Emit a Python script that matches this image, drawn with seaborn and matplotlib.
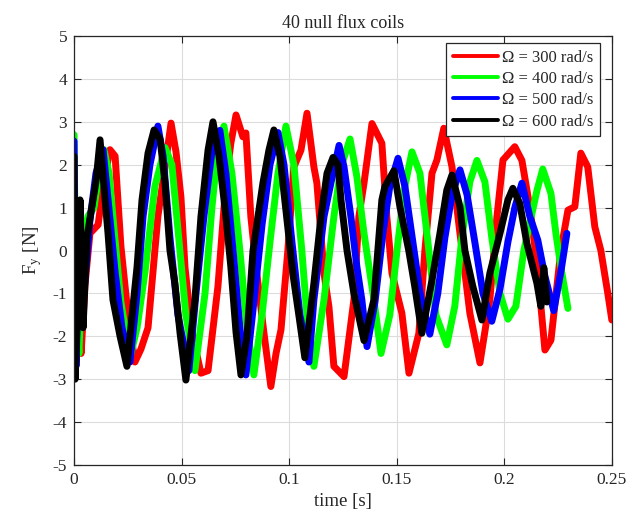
import pandas as pd
import numpy as np
import matplotlib
matplotlib.use("Agg")
import matplotlib.pyplot as plt
import seaborn as sns

# Values (time in s, force in N)
t_300 = [0.0000, 0.0019, 0.0033, 0.0051, 0.0074, 0.0112, 0.0139, 0.0167, 0.0191, 0.0218,
         0.0251, 0.0283, 0.0311, 0.0344, 0.0390, 0.0423, 0.0451, 0.0474, 0.0497, 0.0516,
         0.0548, 0.0590, 0.0623, 0.0669, 0.0706, 0.0729, 0.0753, 0.0785, 0.0799, 0.0822,
         0.0846, 0.0883, 0.0915, 0.0939, 0.0962, 0.0994, 0.1022, 0.1055, 0.1083, 0.1115,
         0.1129, 0.1162, 0.1185, 0.1208, 0.1255, 0.1301, 0.1324, 0.1348, 0.1385, 0.1431,
         0.1454, 0.1478, 0.1524, 0.1557, 0.1603, 0.1631, 0.1664, 0.1687, 0.1719, 0.1757,
         0.1794, 0.1808, 0.1840, 0.1887, 0.1933, 0.1966, 0.1994, 0.2049, 0.2082, 0.2119,
         0.2152, 0.2189, 0.2217, 0.2263, 0.2296, 0.2328, 0.2356, 0.2388, 0.2421, 0.2449,
         0.2481, 0.2500]
f_300 = [1.30, -1.50, -2.40, -0.80, 0.40, 0.60, 1.60, 2.35, 2.20, 0.10,
         -1.50, -2.60, -2.30, -1.80, 0.80, 1.95, 2.97, 2.30, 1.25, -0.40,
         -1.90, -2.86, -2.80, -0.84, 1.57, 2.50, 3.16, 2.65, 2.74, 0.79,
         -0.38, -1.93, -3.17, -2.40, -1.85, 0.00, 1.95, 2.34, 3.20, 1.95,
         1.57, -0.53, -1.31, -2.70, -2.94, -1.15, 0.79, 1.57, 2.96, 2.50,
         0.79, -0.53, -1.46, -2.86, -1.93, 0.00, 1.80, 2.11, 2.85, 1.95,
         0.40, -0.14, -1.46, -2.62, -1.15, 0.79, 2.11, 2.42, 2.10, 1.00,
         -0.30, -2.32, -2.09, 0.00, 0.94, 1.02, 2.27, 1.95, 0.55, 0.00,
         -0.99, -1.62]

t_400 = [0.0000, 0.0009, 0.0023, 0.0042, 0.0065, 0.0093, 0.0116, 0.0139, 0.0163, 0.0186,
         0.0218, 0.0260, 0.0293, 0.0330, 0.0376, 0.0423, 0.0455, 0.0483, 0.0520, 0.0562,
         0.0609, 0.0641, 0.0669, 0.0697, 0.0734, 0.0771, 0.0804, 0.0836, 0.0874, 0.0911,
         0.0948, 0.0985, 0.1022, 0.1059, 0.1087, 0.1115, 0.1162, 0.1208, 0.1241, 0.1283,
         0.1315, 0.1348, 0.1394, 0.1427, 0.1468, 0.1506, 0.1538, 0.1571, 0.1608, 0.1645,
         0.1682, 0.1733, 0.1770, 0.1803, 0.1840, 0.1873, 0.1910, 0.1942, 0.1980, 0.2017,
         0.2054, 0.2091, 0.2152, 0.2179, 0.2217, 0.2240, 0.2263, 0.2296]
f_400 = [2.70, -1.50, -2.40, 0.30, 0.80, 1.00, 1.80, 2.35, 1.80, 0.50,
         -1.20, -2.50, -1.80, -0.50, 1.50, 2.40, 2.00, 0.50, -1.50, -2.80,
         -1.00, 1.00, 2.40, 2.90, 1.80, 0.00, -1.80, -2.90, -1.50, 0.20,
         1.80, 2.90, 2.00, 0.00, -1.80, -2.70, -1.15, 0.79, 1.95, 2.60,
         1.72, 0.40, -1.15, -2.40, -1.50, 0.20, 1.50, 2.30, 1.80, 0.20,
         -1.50, -2.20, -1.30, 0.30, 1.60, 2.10, 1.60, 0.30, -1.00, -1.60,
         -1.30, 0.00, 1.40, 1.90, 1.33, 0.40, -0.38, -1.35]

t_500 = [0.0000, 0.0009, 0.0028, 0.0046, 0.0074, 0.0102, 0.0135, 0.0158, 0.0191, 0.0223,
         0.0260, 0.0293, 0.0321, 0.0353, 0.0390, 0.0414, 0.0446, 0.0483, 0.0534, 0.0567,
         0.0604, 0.0641, 0.0678, 0.0706, 0.0743, 0.0771, 0.0799, 0.0836, 0.0874, 0.0911,
         0.0948, 0.0976, 0.1013, 0.1050, 0.1092, 0.1115, 0.1162, 0.1194, 0.1232, 0.1255,
         0.1287, 0.1315, 0.1338, 0.1362, 0.1399, 0.1436, 0.1468, 0.1506, 0.1538, 0.1575,
         0.1612, 0.1654, 0.1691, 0.1724, 0.1757, 0.1794, 0.1827, 0.1863, 0.1901, 0.1942,
         0.1980, 0.2017, 0.2049, 0.2082, 0.2119, 0.2156, 0.2189, 0.2230, 0.2263, 0.2291]
f_500 = [2.55, -2.70, 0.50, -1.00, 0.70, 1.80, 2.35, 1.20, -0.50, -1.80,
         -2.60, -1.00, 0.80, 2.00, 2.90, 2.20, 0.30, -1.50, -2.80, -1.00,
         0.80, 2.30, 2.80, 1.80, -0.20, -1.80, -2.90, -1.20, 0.60, 2.00,
         2.75, 2.00, 0.20, -1.50, -2.60, -1.15, 0.79, 1.57, 2.45, 1.95,
         0.79, -0.38, -1.15, -2.24, -1.20, 0.40, 1.50, 2.15, 1.50, 0.20,
         -1.10, -1.95, -1.00, 0.30, 1.30, 1.88, 1.30, 0.20, -1.00, -1.65,
         -0.90, 0.20, 1.00, 1.57, 0.79, 0.24, -0.60, -1.40, -0.50, 0.40]

t_600 = [0.0000, 0.0005, 0.0019, 0.0028, 0.0042, 0.0060, 0.0079, 0.0102, 0.0121, 0.0139,
         0.0158, 0.0181, 0.0214, 0.0246, 0.0270, 0.0293, 0.0316, 0.0344, 0.0372, 0.0400,
         0.0423, 0.0446, 0.0469, 0.0493, 0.0520, 0.0562, 0.0590, 0.0623, 0.0646, 0.0674,
         0.0706, 0.0729, 0.0753, 0.0776, 0.0804, 0.0832, 0.0878, 0.0906, 0.0929, 0.0957,
         0.0985, 0.1017, 0.1046, 0.1073, 0.1115, 0.1148, 0.1176, 0.1204, 0.1227, 0.1241,
         0.1269, 0.1301, 0.1348, 0.1394, 0.1431, 0.1445, 0.1487, 0.1515, 0.1556, 0.1584,
         0.1617, 0.1664, 0.1701, 0.1733, 0.1757, 0.1794, 0.1817, 0.1854, 0.1896, 0.1933,
         0.1980, 0.2017, 0.2040, 0.2072, 0.2105, 0.2152, 0.2170, 0.2184, 0.2198]
f_600 = [2.20, -3.00, -1.00, 1.18, -1.80, 0.30, 0.90, 1.60, 2.58, 1.50,
         0.40, -1.15, -2.00, -2.70, -1.50, -0.38, 1.18, 2.27, 2.81, 2.60,
         1.57, 0.00, -0.77, -1.93, -3.02, -1.15, 0.79, 2.34, 3.00, 2.20,
         0.79, -0.38, -1.90, -2.90, -2.00, 0.00, 1.57, 2.34, 2.81, 2.20,
         0.94, -0.53, -1.54, -2.50, -0.77, 0.79, 1.80, 2.17, 2.00, 1.18,
         0.00, -1.00, -2.10, -1.15, 1.18, 1.49, 1.86, 1.02, 0.00, -0.84,
         -1.93, -0.69, 0.40, 1.41, 1.76, 1.02, 0.00, -0.84, -1.62, -0.53,
         0.40, 1.18, 1.45, 1.10, 0.17, -0.77, -1.30, -0.40, -1.20]

labels = ["Ω = 300 rad/s", "Ω = 400 rad/s", "Ω = 500 rad/s", "Ω = 600 rad/s"]
colors = ["#ff0000", "#00ff00", "#0000ff", "#000000"]

frames = []
for lab, t, f in zip(labels, [t_300, t_400, t_500, t_600], [f_300, f_400, f_500, f_600]):
    frames.append(pd.DataFrame({"time": t, "Fy": f, "speed": lab}))
df = pd.concat(frames, ignore_index=True)

sns.set_theme(style="ticks")
plt.rcParams["font.family"] = ["Liberation Serif", "DejaVu Serif"]
plt.rcParams["mathtext.fontset"] = "stix"
plt.rcParams["axes.unicode_minus"] = False

fig = plt.figure(figsize=(6.42, 5.22), dpi=100)
ax = fig.add_axes([0.1153, 0.1092, 0.8377, 0.8218])

sns.lineplot(data=df, x="time", y="Fy", hue="speed", hue_order=labels,
             palette=dict(zip(labels, colors)), estimator=None, sort=False,
             linewidth=5, ax=ax)

ax.set_xlim(0, 0.25)
ax.set_ylim(-5, 5)
ax.set_xticks([0, 0.05, 0.1, 0.15, 0.2, 0.25])
ax.set_xticklabels(["0", "0.05", "0.1", "0.15", "0.2", "0.25"])
ax.set_yticks(np.arange(-5, 6, 1))
ax.grid(True, color="#dcdcdc", linewidth=0.8)
ax.tick_params(direction="in", top=True, right=True, length=5, width=0.8,
               labelsize=12.5, colors="#262626", pad=5)
for s in ax.spines.values():
    s.set_color("#262626")
    s.set_linewidth(0.9)

ax.set_title("40 null flux coils", fontsize=13, pad=6)
ax.set_xlabel("time [s]", fontsize=13.5, labelpad=4)
ax.set_ylabel("F$_\\mathrm{y}$ [N]", fontsize=13.5, labelpad=6)

leg = ax.legend(loc="upper right", bbox_to_anchor=(0.978, 0.984), fontsize=12,
                frameon=True, fancybox=False, framealpha=1, edgecolor="#262626",
                handlelength=2.7, borderaxespad=0, labelspacing=0.32,
                handletextpad=0.25, borderpad=0.4)
leg.get_frame().set_linewidth(0.9)
for h in leg.legend_handles:
    h.set_linewidth(2.8)

fig.savefig("out.png", dpi=100)
